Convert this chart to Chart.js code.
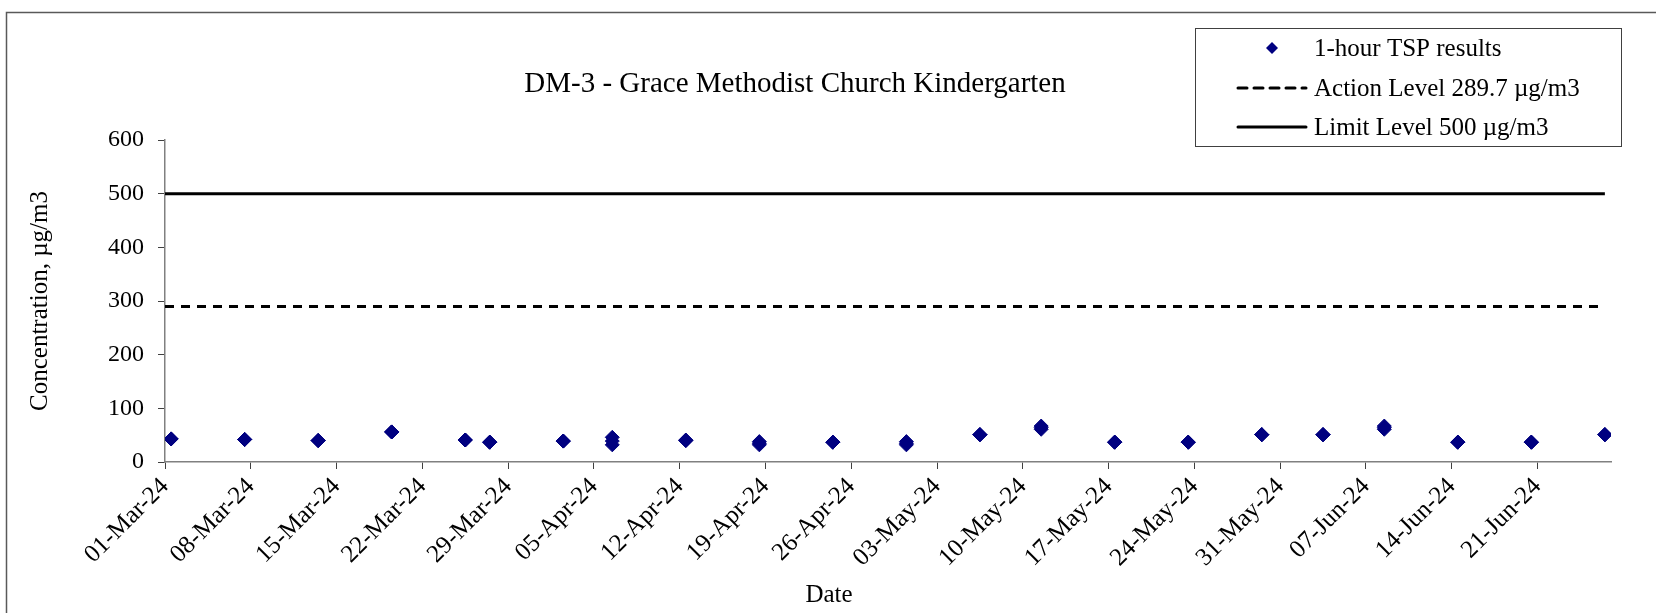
<!DOCTYPE html>
<html>
<head>
<meta charset="utf-8">
<script src="https://cdn.jsdelivr.net/npm/chart.js@4.4.1/dist/chart.umd.min.js"></script>
<style>
  html, body { margin: 0; padding: 0; background: #fff; }
  canvas { display: block; }
</style>
</head>
<body>
<canvas id="chart" width="1656" height="613"></canvas>
<script>
// Sampling days and the three 1-hour TSP readings of each day (µg/m3)
const sampleDates = [
    '2024-03-01', '2024-03-07', '2024-03-13', '2024-03-19', '2024-03-25', '2024-03-27',
    '2024-04-02', '2024-04-06', '2024-04-12', '2024-04-18', '2024-04-24', '2024-04-30',
    '2024-05-06', '2024-05-11', '2024-05-17', '2024-05-23', '2024-05-29', '2024-06-03',
    '2024-06-08', '2024-06-14', '2024-06-20', '2024-06-26'
];
const reading1 = [43, 42, 40, 56, 41, 37, 39, 46, 41, 38, 37, 38, 51, 67, 37, 37, 51, 51, 67, 37, 37, 51];
const reading2 = [43, 42, 40, 56, 41, 37, 39, 39, 40, 32, 37, 32, 51, 61, 37, 37, 51, 51, 61, 37, 37, 51];
const reading3 = [43, 42, 40, 56, 41, 37, 39, 32, 40, 35, 37, 35, 51, 64, 37, 37, 51, 51, 64, 37, 37, 51];
const sampleTime = 'T12:00:00Z';

const actionLevel = 289.7;
const limitLevel = 500;

const axisStart = '2024-03-01';
const axisEnd = '2024-06-27';
const tickEveryDays = 7;
const yTicks = [0, 100, 200, 300, 400, 500, 600];

const chartTitle = 'DM-3 - Grace Methodist Church Kindergarten';
const yTitle = 'Concentration, µg/m3';
const xTitle = 'Date';
const seriesNames = ['1-hour TSP results', 'Action Level 289.7 µg/m3', 'Limit Level 500 µg/m3'];

const monthNames = ['Jan', 'Feb', 'Mar', 'Apr', 'May', 'Jun', 'Jul', 'Aug', 'Sep', 'Oct', 'Nov', 'Dec'];
const startMs = Date.parse(axisStart + 'T00:00:00Z');
const DAY = 86400000;

function dayOf(str) {
    return (Date.parse(str) - startMs) / DAY;
}

function formatDay(value) {
    const d = new Date(startMs + value * DAY);
    const dd = String(d.getUTCDate()).padStart(2, '0');
    const yy = String(d.getUTCFullYear()).slice(2);
    return dd + '-' + monthNames[d.getUTCMonth()] + '-' + yy;
}

const FONT = '"Liberation Serif", "Times New Roman", serif';

// scatter points: every reading of every day
const tspPoints = [];
[reading1, reading2, reading3].forEach(function (readings) {
    readings.forEach(function (v, i) {
        tspPoints.push({ x: dayOf(sampleDates[i] + sampleTime), y: v });
    });
});

const firstDay = 0;
const lastDay = dayOf(sampleDates[sampleDates.length - 1] + sampleTime);

const levelLine = function (level) {
    return [{ x: firstDay, y: level }, { x: lastDay, y: level }];
};

const decorations = {
    id: 'decorations',
    afterDraw(chart) {
        const ctx = chart.ctx;
        const area = chart.chartArea;
        ctx.save();

        // outer frame, only its top and left edges fall inside the picture
        ctx.strokeStyle = '#595959';
        ctx.lineWidth = 1.5;
        ctx.strokeRect(6.5, 12.5, chart.width + 40, chart.height + 40);

        ctx.fillStyle = '#000';
        ctx.textAlign = 'center';
        ctx.textBaseline = 'middle';

        ctx.font = '29px ' + FONT;
        ctx.fillText(chartTitle, 795, 84);

        ctx.font = '25px ' + FONT;
        ctx.fillText(xTitle, 829, 595);

        ctx.save();
        ctx.translate(40, (area.top + area.bottom) / 2);
        ctx.rotate(-Math.PI / 2);
        ctx.fillText(yTitle, 0, 0);
        ctx.restore();

        // legend box
        ctx.strokeStyle = '#404040';
        ctx.lineWidth = 1;
        ctx.strokeRect(1195.5, 28.5, 426, 118);

        const rows = [48, 88, 127];
        const ds = chart.data.datasets;
        ctx.textAlign = 'left';
        ctx.font = '25px ' + FONT;

        // diamond marker
        ctx.fillStyle = ds[0].backgroundColor;
        ctx.beginPath();
        ctx.moveTo(1272, rows[0] - 6);
        ctx.lineTo(1278, rows[0]);
        ctx.lineTo(1272, rows[0] + 6);
        ctx.lineTo(1266, rows[0]);
        ctx.closePath();
        ctx.fill();

        for (let i = 1; i < 3; i++) {
            ctx.strokeStyle = ds[i].borderColor;
            ctx.lineWidth = ds[i].borderWidth;
            ctx.lineCap = 'round';
            ctx.setLineDash(ds[i].borderDash || []);
            ctx.beginPath();
            ctx.moveTo(1238, rows[i]);
            ctx.lineTo(1306, rows[i]);
            ctx.stroke();
        }
        ctx.setLineDash([]);

        ctx.fillStyle = '#000';
        for (let i = 0; i < 3; i++) {
            ctx.fillText(seriesNames[i], 1314, rows[i] + 1);
        }
        ctx.restore();
    }
};

new Chart(document.getElementById('chart'), {
    type: 'scatter',
    data: {
        datasets: [
            {
                label: seriesNames[0],
                data: tspPoints,
                pointStyle: 'rectRot',
                pointRadius: 7,
                backgroundColor: '#000080',
                borderColor: '#000080',
                borderWidth: 1,
                order: 0
            },
            {
                label: seriesNames[1],
                data: levelLine(actionLevel),
                showLine: true,
                pointRadius: 0,
                borderColor: '#000',
                borderWidth: 3,
                borderDash: [9, 7],
                order: 1
            },
            {
                label: seriesNames[2],
                data: levelLine(limitLevel),
                showLine: true,
                pointRadius: 0,
                borderColor: '#000',
                borderWidth: 3,
                order: 2
            }
        ]
    },
    options: {
        responsive: false,
        animation: false,
        devicePixelRatio: 1,
        layout: { padding: { left: 0, top: 140, right: 45, bottom: 0 } },
        plugins: {
            legend: { display: false },
            tooltip: { enabled: false },
            title: { display: false }
        },
        scales: {
            x: {
                type: 'linear',
                min: 0,
                max: dayOf(axisEnd + 'T00:00:00Z'),
                border: { color: '#808080', width: 1.5 },
                grid: { drawOnChartArea: false, drawTicks: true, tickLength: 7, color: '#404040', lineWidth: 1 },
                ticks: {
                    stepSize: tickEveryDays,
                    autoSkip: false,
                    minRotation: 45,
                    maxRotation: 45,
                    color: '#000',
                    font: { family: FONT, size: 25 },
                    padding: 3,
                    callback: function (value) { return formatDay(value); }
                },
                afterBuildTicks: function (scale) {
                    scale.ticks = scale.ticks.filter(function (t) {
                        return t.value % tickEveryDays === 0;
                    });
                },
                afterFit: function (scale) { scale.height = 151; }
            },
            y: {
                min: yTicks[0],
                max: yTicks[yTicks.length - 1],
                border: { color: '#808080', width: 1.5 },
                grid: { drawOnChartArea: false, drawTicks: true, tickLength: 7, color: '#404040', lineWidth: 1 },
                ticks: {
                    stepSize: 100,
                    color: '#000',
                    font: { family: FONT, size: 24 },
                    padding: 14
                },
                afterFit: function (scale) { scale.width = 165; }
            }
        }
    },
    plugins: [decorations]
});
</script>
</body>
</html>
